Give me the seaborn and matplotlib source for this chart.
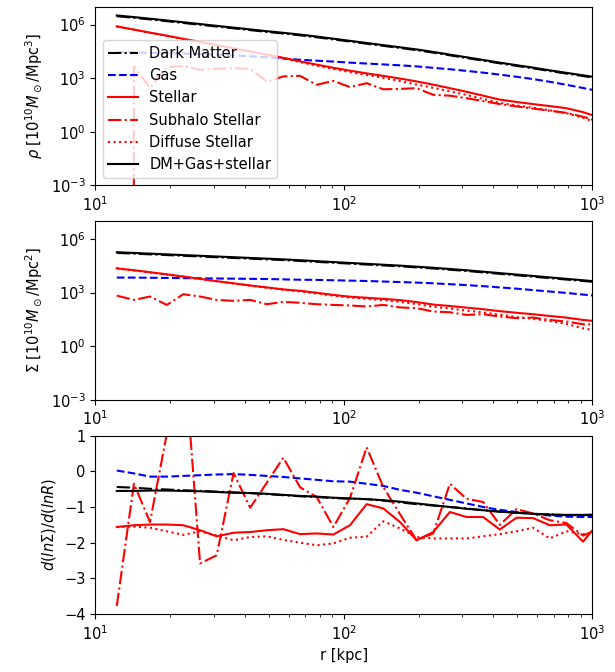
import numpy as np
import pandas as pd
import seaborn as sns
import matplotlib
matplotlib.use("Agg")
import matplotlib.pyplot as plt
from matplotlib.ticker import NullLocator

plt.rcParams['font.size'] = 10.5

# radial bins [kpc]
r = [12.2, 14.3, 16.6, 19.4, 22.6, 26.4, 30.8, 36.0, 42.0, 49.0,
     57.1, 66.7, 77.8, 90.8, 105.9, 123.6, 144.2, 168.3, 196.3, 229.1,
     267.3, 311.9, 363.9, 424.6, 495.5, 578.1, 674.5, 787.0, 918.3, 1071.5]

# log10 of 3D density [1e10 Msun/Mpc^3]
rho_dm = [6.47, 6.38, 6.29, 6.19, 6.09, 5.99, 5.89, 5.79, 5.69, 5.59,
          5.50, 5.40, 5.29, 5.17, 5.05, 4.93, 4.81, 4.69, 4.57, 4.43,
          4.28, 4.13, 3.98, 3.83, 3.69, 3.55, 3.40, 3.26, 3.12, 2.98]
rho_gas = [4.45, 4.44, 4.42, 4.40, 4.38, 4.35, 4.32, 4.28, 4.23, 4.17,
           4.10, 4.03, 3.98, 3.93, 3.87, 3.82, 3.77, 3.72, 3.66, 3.58,
           3.50, 3.41, 3.31, 3.20, 3.08, 2.95, 2.80, 2.63, 2.45, 2.27]
rho_star = [5.90, 5.72, 5.55, 5.38, 5.20, 5.03, 4.85, 4.67, 4.50, 4.32,
            4.14, 3.94, 3.76, 3.58, 3.42, 3.27, 3.13, 2.98, 2.82, 2.64,
            2.44, 2.24, 2.02, 1.80, 1.67, 1.55, 1.44, 1.32, 1.10, 0.80]
rho_sub = [None, 3.66, 2.46, 3.62, 3.68, 3.47, 3.52, 3.56, 3.52, 2.81,
           3.10, 3.13, 2.63, 2.85, 2.50, 2.72, 2.38, 2.40, 2.44, 2.07,
           2.02, 1.88, 1.72, 1.55, 1.42, 1.30, 1.18, 1.06, 0.84, 0.55]
rho_diff = [5.89, 5.71, 5.54, 5.37, 5.19, 5.02, 4.84, 4.66, 4.49, 4.31,
            4.12, 3.90, 3.70, 3.52, 3.34, 3.18, 3.02, 2.84, 2.64, 2.46,
            2.26, 2.06, 1.84, 1.61, 1.47, 1.34, 1.20, 1.04, 0.78, 0.45]
rho_tot = [6.51, 6.42, 6.33, 6.23, 6.13, 6.03, 5.93, 5.83, 5.73, 5.63,
           5.54, 5.44, 5.33, 5.21, 5.09, 4.97, 4.85, 4.73, 4.61, 4.47,
           4.32, 4.17, 4.02, 3.87, 3.73, 3.59, 3.44, 3.30, 3.16, 3.02]

# log10 of projected density [1e10 Msun/Mpc^2]
sig_dm = [5.22, 5.18, 5.14, 5.10, 5.06, 5.02, 4.98, 4.94, 4.90, 4.86,
          4.82, 4.77, 4.72, 4.67, 4.62, 4.57, 4.52, 4.47, 4.41, 4.35,
          4.28, 4.21, 4.13, 4.05, 3.97, 3.89, 3.81, 3.73, 3.65, 3.57]
sig_gas = [3.84, 3.84, 3.83, 3.82, 3.81, 3.80, 3.79, 3.78, 3.77, 3.76,
           3.74, 3.72, 3.71, 3.69, 3.67, 3.65, 3.62, 3.59, 3.56, 3.52,
           3.47, 3.42, 3.36, 3.29, 3.22, 3.14, 3.06, 2.98, 2.89, 2.81]
sig_star = [4.36, 4.25, 4.14, 4.02, 3.90, 3.77, 3.64, 3.52, 3.40, 3.29,
            3.18, 3.10, 2.99, 2.87, 2.77, 2.71, 2.65, 2.58, 2.47, 2.33,
            2.25, 2.16, 2.07, 1.96, 1.87, 1.79, 1.69, 1.60, 1.47, 1.38]
sig_sub = [2.83, 2.59, 2.78, 2.31, 2.91, 2.78, 2.59, 2.54, 2.59, 2.35,
           2.48, 2.43, 2.35, 2.31, 2.28, 2.22, 2.31, 2.17, 2.13, 1.94,
           1.90, 1.75, 1.79, 1.66, 1.57, 1.60, 1.47, 1.38, 1.23, 1.20]
sig_diff = [4.35, 4.24, 4.13, 4.01, 3.89, 3.76, 3.63, 3.51, 3.38, 3.27,
            3.16, 3.07, 2.95, 2.83, 2.72, 2.65, 2.58, 2.48, 2.36, 2.20,
            2.11, 1.99, 1.89, 1.76, 1.63, 1.53, 1.41, 1.25, 1.00, 0.85]
sig_tot = [5.26, 5.22, 5.18, 5.14, 5.10, 5.06, 5.02, 4.98, 4.94, 4.90,
           4.86, 4.81, 4.76, 4.71, 4.66, 4.61, 4.56, 4.51, 4.45, 4.39,
           4.32, 4.25, 4.17, 4.09, 4.01, 3.93, 3.85, 3.77, 3.69, 3.61]

# logarithmic slope d(ln Sigma)/d(ln R)
slp_dm = [-0.44, -0.46, -0.49, -0.51, -0.53, -0.55, -0.57, -0.59, -0.61, -0.64,
          -0.67, -0.70, -0.72, -0.75, -0.77, -0.78, -0.82, -0.87, -0.92, -0.96,
          -1.00, -1.04, -1.09, -1.13, -1.16, -1.19, -1.21, -1.23, -1.23, -1.22]
slp_gas = [0.02, -0.06, -0.15, -0.15, -0.13, -0.11, -0.09, -0.08, -0.10, -0.13,
           -0.16, -0.20, -0.24, -0.28, -0.29, -0.35, -0.41, -0.52, -0.60, -0.70,
           -0.80, -0.90, -1.00, -1.08, -1.14, -1.19, -1.24, -1.27, -1.28, -1.28]
slp_star = [-1.56, -1.51, -1.49, -1.49, -1.51, -1.65, -1.82, -1.72, -1.70, -1.65,
            -1.62, -1.76, -1.74, -1.77, -1.51, -0.92, -1.04, -1.42, -1.93, -1.70,
            -1.14, -1.28, -1.28, -1.63, -1.30, -1.31, -1.51, -1.49, -1.97, -1.40]
slp_sub = [-3.77, -0.35, -1.42, 1.05, 3.60, -2.58, -2.35, -0.05, -1.02, -0.32,
           0.38, -0.45, -0.72, -1.56, -0.75, 0.67, -0.44, -1.20, -1.93, -1.74,
           -0.35, -0.77, -0.86, -1.50, -1.06, -1.18, -1.37, -1.45, -1.80, -1.60]
slp_diff = [-1.56, -1.55, -1.58, -1.68, -1.78, -1.68, -1.80, -1.93, -1.84, -1.82,
            -1.92, -2.00, -2.07, -2.02, -1.86, -1.83, -1.40, -1.60, -1.84, -1.88,
            -1.88, -1.88, -1.82, -1.76, -1.68, -1.58, -1.88, -1.68, -1.76, -1.72]
slp_tot = [-0.55, -0.55, -0.54, -0.54, -0.55, -0.56, -0.58, -0.60, -0.61, -0.63,
           -0.66, -0.69, -0.71, -0.74, -0.76, -0.78, -0.81, -0.85, -0.90, -0.95,
           -1.00, -1.05, -1.09, -1.13, -1.16, -1.19, -1.21, -1.22, -1.22, -1.21]

names = ['Dark Matter', 'Gas', 'Stellar', 'Subhalo Stellar', 'Diffuse Stellar', 'DM+Gas+stellar']
colors = ['k', 'b', 'r', 'r', 'r', 'k']
styles = ['-.', '--', '-', '-.', ':', '-']


def unlog(v):
    # empty bin -> zero density
    return [0.0 if x is None else 10 ** x for x in v]


panels = [
    [unlog(v) for v in (rho_dm, rho_gas, rho_star, rho_sub, rho_diff, rho_tot)],
    [unlog(v) for v in (sig_dm, sig_gas, sig_star, sig_sub, sig_diff, sig_tot)],
    [slp_dm, slp_gas, slp_star, slp_sub, slp_diff, slp_tot],
]
ylabels = [r'$\rho$ [$10^{10}M_\odot$/Mpc$^3$]',
           r'$\Sigma$ [$10^{10}M_\odot$/Mpc$^2$]',
           r'$d(ln\Sigma)/d(lnR)$']

fig, axes = plt.subplots(3, 1, figsize=(6.15, 6.72), dpi=100)
fig.subplots_adjust(left=0.155, right=0.963, top=0.99, bottom=0.086, hspace=0.2)

for i, ax in enumerate(axes):
    for name, col, ls, vals in zip(names, colors, styles, panels[i]):
        sns.lineplot(x=r, y=vals, ax=ax, color=col, linestyle=ls, linewidth=1.5,
                     label=name, legend=False, estimator=None, sort=False)
    ax.set_xscale('log')
    ax.set_xlim(10, 1000)
    ax.set_ylabel(ylabels[i])
    if i < 2:
        ax.set_yscale('log')
        ax.set_ylim(1e-3, 1e7)
        ax.set_yticks([1e-3, 1e0, 1e3, 1e6])
        ax.yaxis.set_minor_locator(NullLocator())
    else:
        ax.set_ylim(-4, 1)

axes[0].legend(loc='lower left')
axes[2].set_xlabel('r [kpc]')

plt.savefig('out.png', dpi=100)
